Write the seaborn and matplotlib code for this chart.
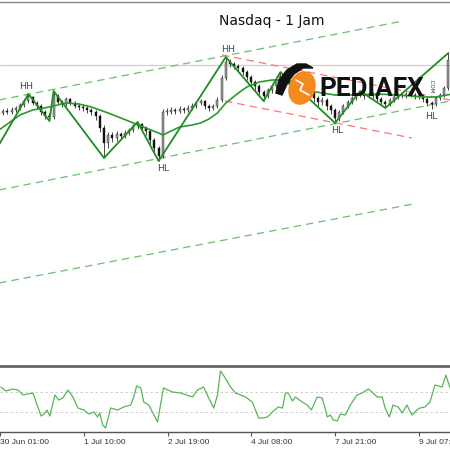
import matplotlib.pyplot as plt
import numpy as np
import seaborn as sns
from matplotlib.patches import Ellipse, Polygon

# hourly bars, open = previous close
first_open = 286
closes = [287, 289, 288, 290, 292, 295, 299, 303, 297, 294,
          288, 284, 283, 304, 298, 296, 301, 297, 294, 293,
          292, 290, 288, 284, 272, 257, 265, 262, 266, 264,
          267, 270, 274, 276, 272, 269, 260, 252, 244, 288,
          288, 290, 289, 291, 290, 292, 294, 297, 299, 294,
          292, 294, 300, 322, 338, 336, 334, 332, 328, 323,
          318, 314, 308, 304, 310, 314, 320, 324, 320, 316,
          312, 314, 310, 306, 308, 302, 298, 300, 294, 290,
          282, 288, 294, 298, 302, 305, 306, 304, 306, 304,
          301, 298, 296, 300, 303, 305, 304, 306, 305, 303,
          304, 301, 297, 296, 302, 305, 312, 340]
highs = [290, 291, 292, 293, 294, 297, 301, 306, 304, 299,
         296, 290, 287, 309, 306, 300, 303, 302, 299, 297,
         296, 294, 292, 290, 286, 275, 268, 268, 269, 268,
         270, 272, 276, 278, 277, 274, 271, 262, 254, 291,
         292, 293, 292, 294, 293, 295, 297, 299, 301, 300,
         296, 296, 303, 325, 343, 341, 338, 336, 334, 330,
         325, 320, 316, 310, 312, 316, 322, 328, 326, 322,
         318, 317, 316, 312, 311, 310, 304, 303, 302, 296,
         292, 290, 296, 300, 304, 307, 309, 308, 308, 308,
         306, 303, 300, 302, 305, 307, 307, 308, 308, 307,
         306, 306, 303, 299, 304, 307, 314, 347]
lows = [283, 285, 286, 286, 288, 290, 293, 297, 295, 291,
        285, 281, 279, 281, 296, 293, 294, 295, 292, 290,
        289, 287, 285, 280, 268, 242, 252, 258, 259, 261,
        262, 265, 268, 271, 269, 265, 256, 248, 239, 242,
        285, 286, 286, 287, 287, 288, 290, 292, 295, 291,
        289, 290, 292, 298, 320, 333, 331, 329, 325, 320,
        315, 310, 305, 299, 302, 307, 312, 318, 317, 313,
        309, 310, 306, 302, 303, 298, 294, 295, 290, 286,
        277, 279, 286, 292, 296, 300, 303, 301, 302, 301,
        298, 295, 292, 294, 298, 301, 302, 302, 303, 301,
        301, 298, 294, 291, 294, 300, 303, 310]

# moving average
ma_pos = [0, 3, 5, 8, 12, 16, 19, 22, 26, 29, 32, 35, 38, 39, 41, 43, 46,
          48, 50, 52, 54, 57, 59, 62, 65, 67, 70, 74, 77, 80, 85, 90, 95,
          101, 104, 108]
ma_vals = [270, 279, 285, 290, 293, 297, 296, 293, 287, 282, 277, 272,
           267, 265, 269, 273, 275, 277, 281, 287, 297, 307, 313, 318,
           320, 320, 314, 309, 307, 305, 305, 306, 305, 303, 303, 306]

# zigzag swing points
zz_pos = [-1, 7, 12, 13, 25, 33, 38, 54, 63, 67, 80, 86, 92, 107]
zz_vals = [248, 306, 279, 309, 242, 278, 239, 343, 299, 328, 277, 309,
           292, 347]

swing_labels = ["HH", "HL", "HH", "HL", "HL"]
swing_pos = [6.5, 39, 54.5, 80.5, 103]
swing_vals = [306, 239, 343, 277, 291]

# trend channels: (x0, y0, x1, y1)
green_channel = [(0, 300, 96.2, 379), (0, 210, 107.4, 299), (0, 117, 98.6, 196)]
red_channel = [(53.1, 345, 107.4, 300), (53.8, 299, 98.3, 262)]
level_line = 335

# oscillator in the lower pane
cci_pos = [0.2, 1.4, 3.1, 4.3, 5.5, 7.9, 8.6, 9.8, 10.5, 11.2, 11.9, 13.1,
           14.0, 15.0, 16.2, 17.4, 18.6, 20.0, 21.2, 22.4, 23.3, 23.8,
           24.5, 25.2, 26.0, 26.4, 28.1, 29.5, 31.2, 31.9, 32.6, 33.6,
           34.3, 35.5, 37.1, 37.6, 38.3, 39.0, 41.2, 43.1, 45.9, 47.1,
           48.6, 49.8, 51.0, 51.9, 52.6, 53.6, 55.0, 56.2, 58.6, 60.2,
           61.7, 62.9, 63.8, 65.0, 66.4, 67.4, 68.1, 68.8, 69.8, 70.5,
           72.1, 73.3, 74.3, 75.7, 76.9, 78.1, 78.8, 79.5, 80.5, 81.2,
           82.4, 83.6, 85.2, 86.4, 87.9, 88.8, 90.0, 91.2, 91.9, 92.9,
           93.8, 95.0, 96.0, 97.1, 98.3, 99.5, 100.2, 101.4, 102.6, 103.8,
           105.5, 106.4, 107.4]
cci_vals = [150, 110, 130, 120, 70, 90, 0, -140, -120, -80, -140, 70,
            20, 40, 120, 50, -60, -80, -120, -100, -150, -110,
            -230, -260, -130, -60, -80, -50, -30, 50, 160, 140,
            0, -30, -160, -200, -30, 140, 100, 90, 50, 120,
            150, 40, -60, 70, 310, 250, 150, 90, 50, 0,
            -160, -160, -150, -100, -50, -60, 90, 90, 10, 50,
            0, -30, -80, 50, 40, -150, -130, -180, -190, -120,
            -130, -30, 70, 90, 130, 100, 50, 50, -60, -150,
            -30, -50, -110, -30, -130, -80, -60, -50, 0, 170,
            150, 270, 140]
cci_levels = [100, -100]

tick_pos = [0, 20, 40, 60, 80, 100]
tick_labels = ["30 Jun 01:00", "1 Jul 10:00", "2 Jul 19:00",
               "4 Jul 08:00", "7 Jul 21:00", "9 Jul 07:00"]

sns.set_theme(style="white")
plt.rcParams["font.family"] = ["DejaVu Sans"]

fig = plt.figure(figsize=(4.5, 4.5), dpi=100)
ax = fig.add_axes([0, 0.18667, 1, 0.80889])
ax2 = fig.add_axes([0, 0.04, 1, 0.1422])

idx = np.arange(len(closes))
opens = np.array([first_open] + closes[:-1])
closes_a = np.array(closes)
up = closes_a >= opens

# candles
ax.vlines(idx, lows, highs, color="#2a2a2a", lw=0.6, zorder=3)
body = np.where(np.abs(closes_a - opens) < 0.6, 0.6, closes_a - opens)
ax.bar(idx[up], body[up], bottom=opens[up], width=0.5,
       color="#9a9a9a", edgecolor="#222222", lw=0.3, zorder=4)
ax.bar(idx[~up], body[~up], bottom=opens[~up], width=0.5,
       color="#111111", edgecolor="#111111", lw=0.3, zorder=4)

ax.axhline(level_line, color="#cfcfcf", lw=0.9, zorder=1)

for x0, y0, x1, y1 in green_channel:
    ax.plot([x0, x1], [y0, y1], color="#6cbf6c", lw=0.9, ls=(0, (6, 4)), zorder=2)
for x0, y0, x1, y1 in red_channel:
    ax.plot([x0, x1], [y0, y1], color="#ff7373", lw=0.9, ls=(0, (6, 4)), zorder=2)

sns.lineplot(x=ma_pos, y=ma_vals, ax=ax, color="#2b9a2b", lw=1.2, zorder=5)
sns.lineplot(x=zz_pos, y=zz_vals, ax=ax, color="#1e8c1e", lw=1.3, zorder=6)

for lab, px, pv in zip(swing_labels, swing_pos, swing_vals):
    off = 2 if lab == "HH" else -2
    ax.annotate(lab, (px, pv), xytext=(0, off), textcoords="offset points",
                ha="center", va="bottom" if lab == "HH" else "top",
                fontsize=6.8, color="#3a4858", zorder=7)

ax.text(0.603, 0.968, "Nasdaq - 1 Jam", transform=ax.transAxes,
        ha="center", va="top", fontsize=10, color="#111111")

ax.set_xlim(0.238, 107.38)
ax.set_ylim(34, 398)
ax.set_xticks([])
ax.set_yticks([])
for s in ["left", "right"]:
    ax.spines[s].set_visible(False)
ax.spines["top"].set_color("#888888")
ax.spines["top"].set_linewidth(1)
ax.spines["bottom"].set_color("#666666")
ax.spines["bottom"].set_linewidth(2)

# lower pane
for lv in cci_levels:
    ax2.axhline(lv, color="#c4c4c4", lw=0.6, ls=(0, (3, 3)))
sns.lineplot(x=cci_pos, y=cci_vals, ax=ax2, color="#58b558", lw=0.9)
ax2.set_xlim(0.238, 107.38)
ax2.set_ylim(-300, 340)
ax2.set_yticks([])
ax2.set_xticks(tick_pos)
ax2.set_xticklabels(tick_labels, ha="left", fontsize=6,
                    family=["Liberation Sans", "DejaVu Sans"], color="#333333")
ax2.tick_params(axis="x", direction="out", length=3, width=0.8,
                color="#555555", pad=2, bottom=True)
for s in ["left", "right", "top"]:
    ax2.spines[s].set_visible(False)
ax2.spines["bottom"].set_color("#555555")
ax2.spines["bottom"].set_linewidth(1)

# watermark logo in pixel space
lg = fig.add_axes([0, 0, 1, 1], zorder=10)
lg.set_xlim(0, 450)
lg.set_ylim(450, 0)
lg.axis("off")
lg.patch.set_alpha(0)
lg.add_patch(Ellipse((302, 88), 25, 33, angle=20, color="#f28a1e"))
lg.add_patch(Polygon([(276, 93), (279, 80), (287, 70), (297, 64), (306, 64),
                      (313, 68), (303, 68), (294, 74), (288, 82), (282, 95)],
                     closed=True, color="#111111"))
lg.plot([296, 303, 300, 309], [80, 84, 90, 95], color="white", lw=1.2)
lg.text(319, 96, "PEDIAFX", fontsize=18.8, fontweight="bold",
        family=["Roboto", "DejaVu Sans"], color="#111111", ha="left", va="baseline")
lg.text(431, 86, ".COM", fontsize=4, rotation=-90, color="#333333",
        ha="center", va="center")

fig.savefig("out.png", dpi=100, facecolor="white")
